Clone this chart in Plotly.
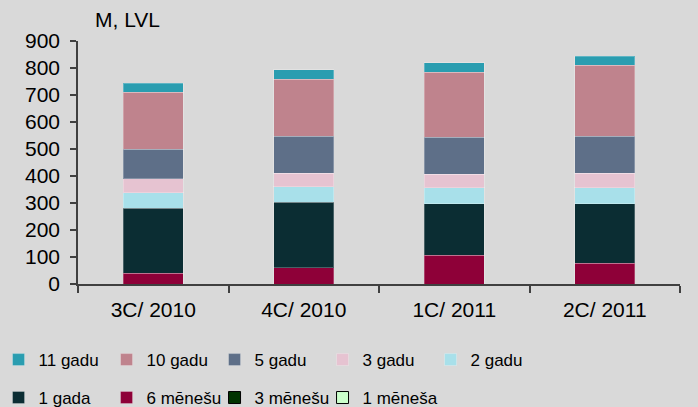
import plotly.graph_objects as go

categories = ["3C/ 2010", "4C/ 2010", "1C/ 2011", "2C/ 2011"]

# stacked from bottom to top
m1 = [0, 0, 0, 0]            # 1 mēneša
m3 = [0, 0, 0, 0]            # 3 mēnešu
m6 = [40, 60, 106, 77]       # 6 mēnešu
y1 = [240, 243, 191, 220]    # 1 gada
y2 = [58, 57, 60, 60]        # 2 gadu
y3 = [52, 50, 49, 53]        # 3 gadu
y5 = [109, 138, 137, 138]    # 5 gadu
y10 = [211, 211, 242, 262]   # 10 gadu
y11 = [33, 35, 35, 34]       # 11 gadu

series = [
    ("1 mēneša", m1, "#ccffcc", "legend2", "#000000"),
    ("3 mēnešu", m3, "#003300", "legend2", "#000000"),
    ("6 mēnešu", m6, "#8e0038", "legend2", None),
    ("1 gada", y1, "#0b2d33", "legend2", None),
    ("2 gadu", y2, "#a8e0ea", "legend", None),
    ("3 gadu", y3, "#e6c3d1", "legend", None),
    ("5 gadu", y5, "#5e6f88", "legend", None),
    ("10 gadu", y10, "#bf838d", "legend", None),
    ("11 gadu", y11, "#2a9db0", "legend", None),
]

fig = go.Figure()
for name, vals, color, leg, lc in series:
    fig.add_trace(go.Bar(
        x=categories, y=vals, name=name, legend=leg,
        legendwidth=100 if name == "1 mēneša" else None,
        marker=dict(color=color,
                    line=dict(color=lc if lc else "rgba(255,255,255,0.25)", width=1)),
    ))

fam = "Liberation Sans, Arial, sans-serif"
font = dict(family=fam, size=21, color="#000000")
legfont = dict(family=fam, size=17, color="#000000")

fig.update_layout(
    width=698, height=407,
    barmode="stack", bargap=0.6,
    paper_bgcolor="#d9d9d9", plot_bgcolor="#d9d9d9",
    margin=dict(l=78, r=18, t=41, b=123, autoexpand=False),
    font=font,
    showlegend=True,
    legend=dict(orientation="h", traceorder="reversed", x=-0.132, xanchor="left",
                y=-0.313, yanchor="middle", font=legfont,
                entrywidth=63, entrywidthmode="pixels", bgcolor="rgba(0,0,0,0)",
                itemwidth=30),
    legend2=dict(orientation="h", traceorder="reversed", x=-0.132, xanchor="left",
                 y=-0.469, yanchor="middle", font=legfont,
                 entrywidth=63, entrywidthmode="pixels", bgcolor="rgba(0,0,0,0)",
                 itemwidth=30),
)
fig.layout.annotations = [dict(text="M, LVL", x=0.025, y=1.09, xref="paper", yref="paper",
                               xanchor="left", yanchor="middle", showarrow=False, font=font)]

fig.update_xaxes(showline=True, linecolor="#404040", linewidth=1.5,
                 ticks="outside", ticklen=7, tickcolor="#404040", tickwidth=1.5,
                 tickson="boundaries", showgrid=False, zeroline=False,
                 ticklabelstandoff=6, tickfont=font)
fig.update_yaxes(range=[0, 900], dtick=100, showline=True, linecolor="#404040", linewidth=1.5,
                 ticks="outside", ticklen=6, tickcolor="#404040", tickwidth=1.5,
                 showgrid=False, zeroline=False, ticklabelstandoff=6, tickfont=font)

fig.write_html("out.html", config={"displayModeBar": False},
               post_script="document.body.style.margin='0';document.body.style.overflow='hidden';")
